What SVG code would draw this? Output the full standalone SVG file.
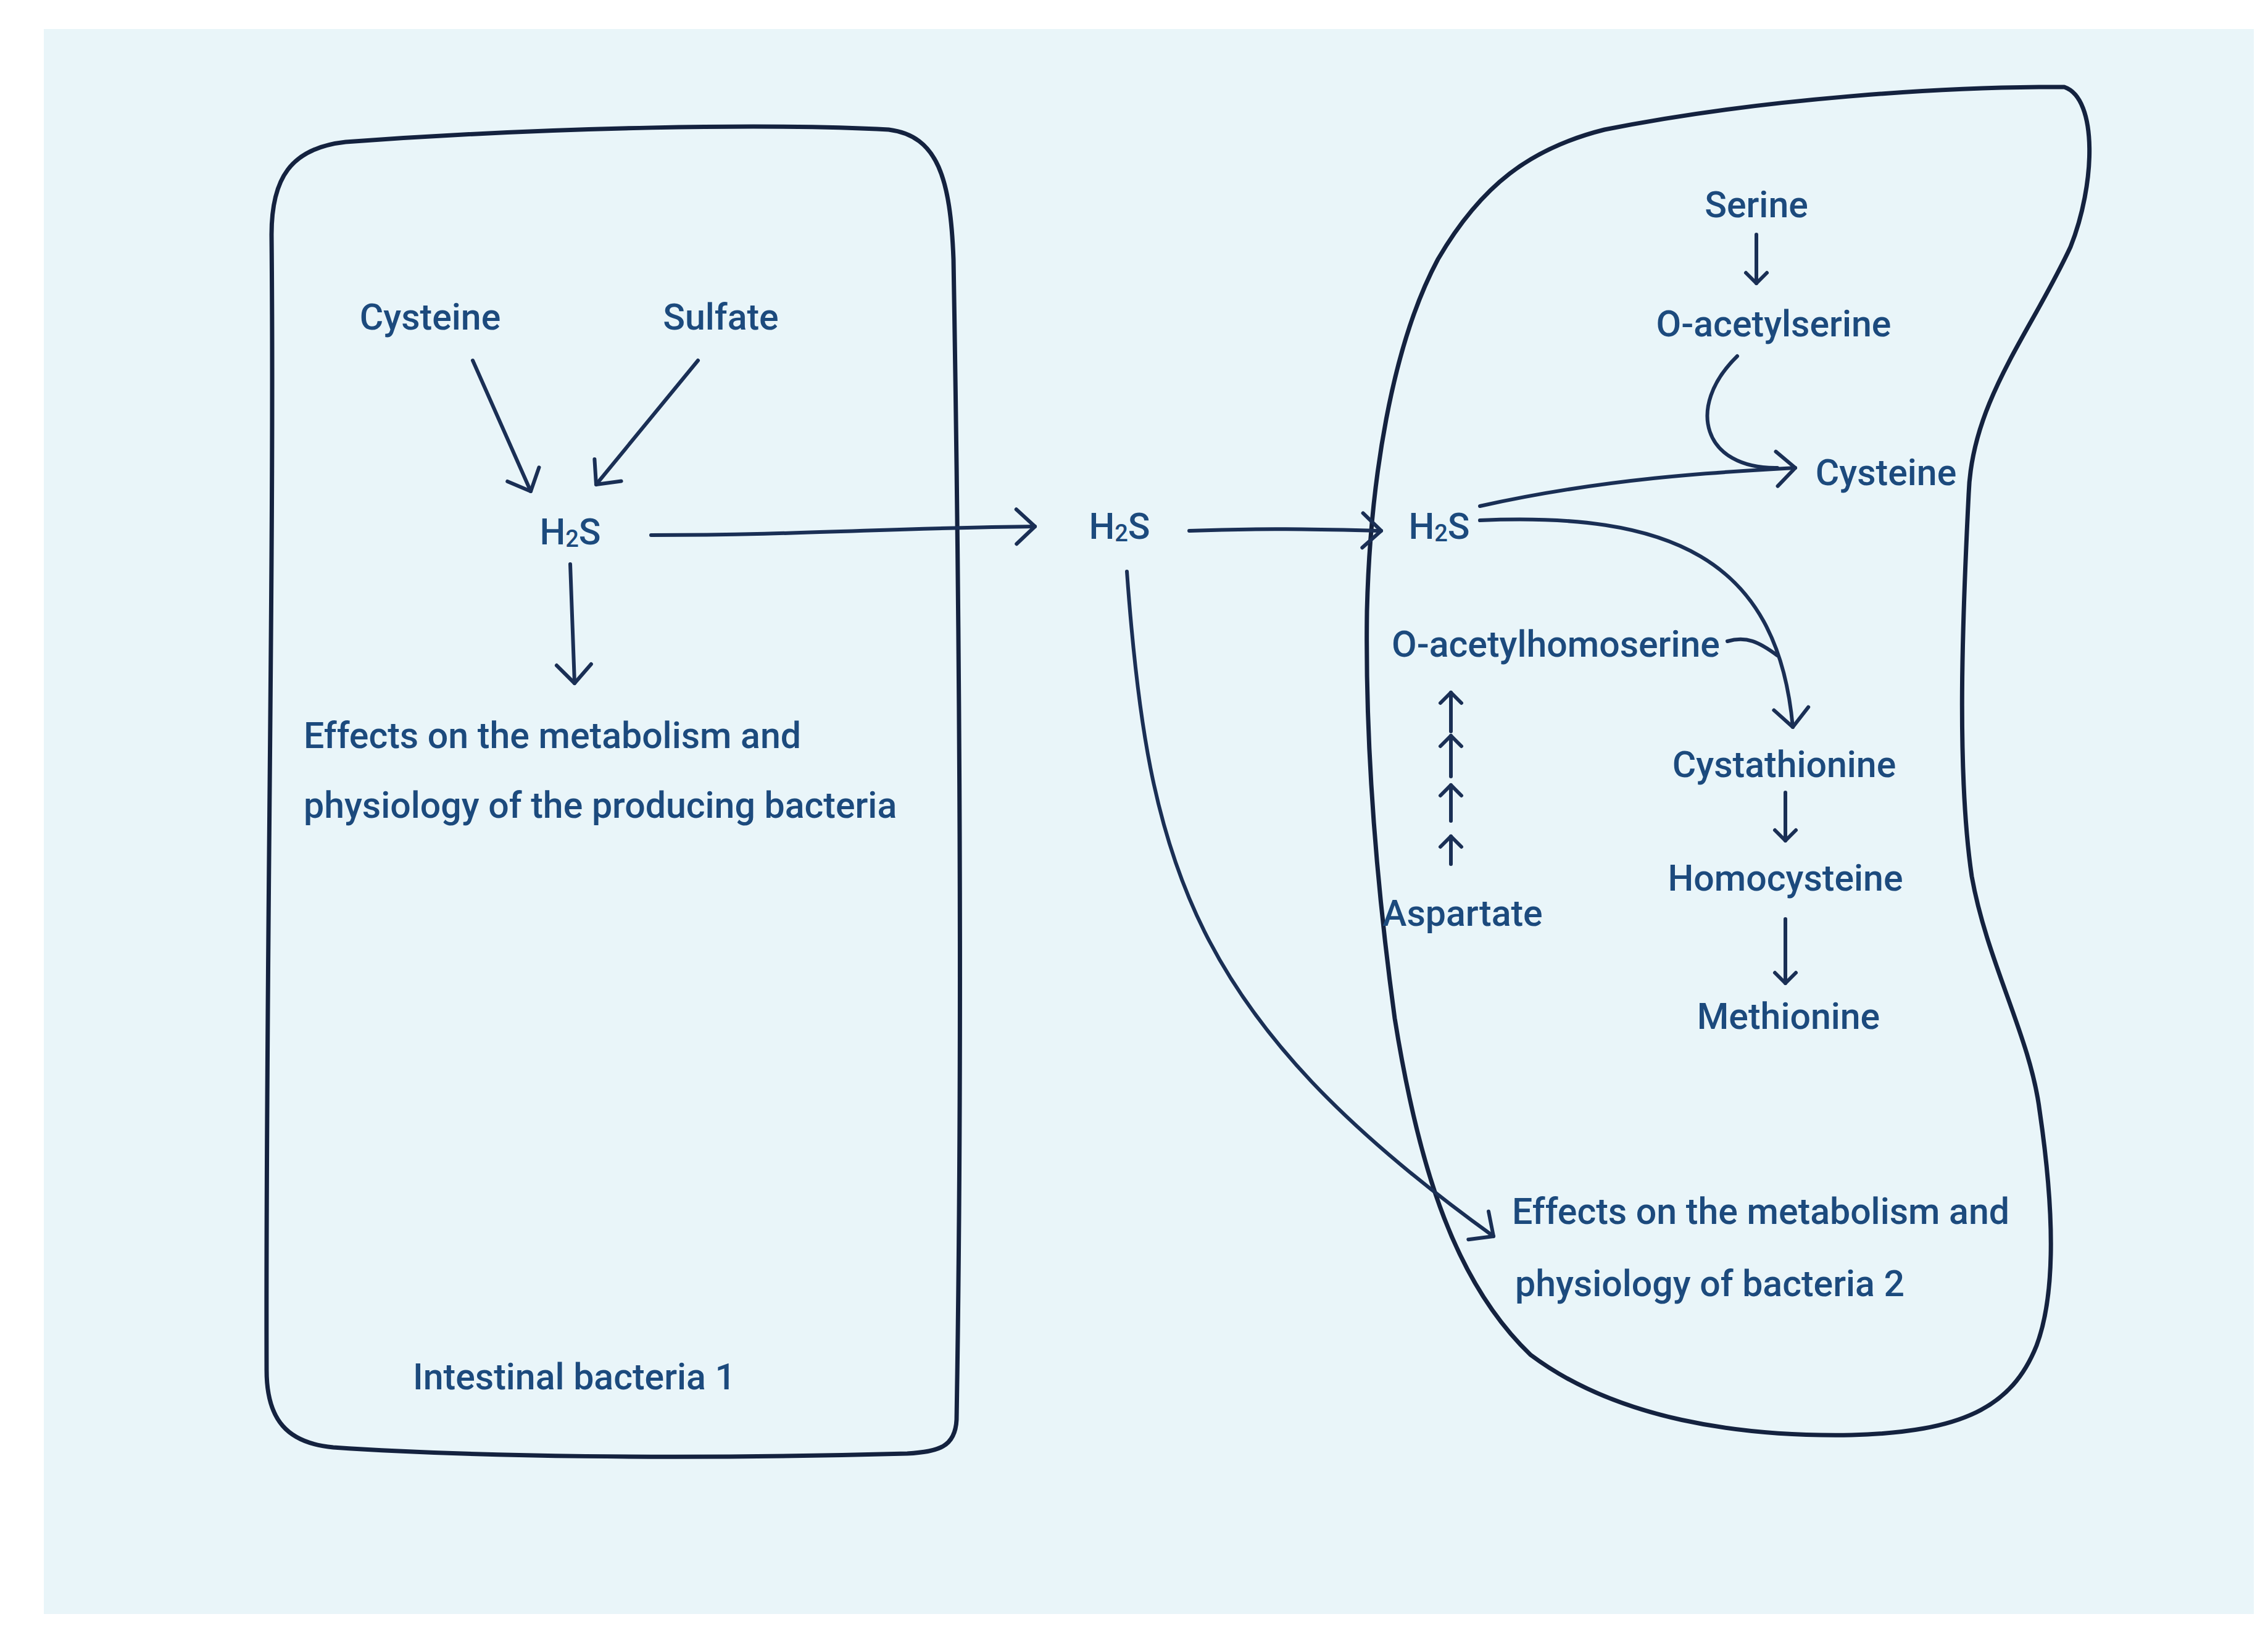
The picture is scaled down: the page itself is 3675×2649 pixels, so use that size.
<svg xmlns="http://www.w3.org/2000/svg" width="3675" height="2649" viewBox="0 0 3675 2649">
<defs>
<style>
.t{font-family:"Roboto","Liberation Sans",sans-serif;font-size:59px;font-weight:500;fill:#1c4a7d}
.c{text-anchor:middle}
.ln{fill:none;stroke:#1a2f55;stroke-width:6;stroke-linecap:round;stroke-linejoin:round}
.ol{fill:none;stroke:#14223f;stroke-width:7;stroke-linejoin:round}
.ar{marker-end:url(#v)}
.sm{marker-end:url(#vs)}
</style>
<marker id="v" markerUnits="userSpaceOnUse" markerWidth="80" markerHeight="80" refX="40" refY="40" orient="auto" viewBox="0 0 80 80">
<path d="M10 12 L40 40 L10 68" fill="none" stroke="#1a2f55" stroke-width="6" stroke-linecap="round" stroke-linejoin="round"/>
</marker>
<marker id="vs" markerUnits="userSpaceOnUse" markerWidth="50" markerHeight="50" refX="25" refY="25" orient="auto" viewBox="0 0 50 50">
<path d="M8 8 L25 25 L8 42" fill="none" stroke="#1a2f55" stroke-width="6" stroke-linecap="round" stroke-linejoin="round"/>
</marker>
</defs>
<rect width="3675" height="2649" fill="#ffffff"/>
<rect x="71" y="47" width="3581" height="2568" fill="#e9f5f9"/>
<g id="bacteria1">
<path class="ol" d="M560 230 C900 205 1250 200 1440 210 C1520 220 1540 290 1545 420 C1555 1000 1560 1700 1550 2300 C1548 2345 1520 2352 1470 2355 C1100 2365 760 2360 540 2345 C465 2338 432 2300 432 2220 C430 1600 445 900 440 380 C440 290 470 240 560 230 Z"/>
<text class="t" x="669" y="2251">Intestinal bacteria 1</text>
</g>
<g id="bacteria2">
<path class="ol" d="M2600 210 C2850 160 3150 140 3345 141 C3400 160 3395 300 3355 400 C3290 540 3195 650 3190 800 C3180 1000 3170 1250 3195 1420 C3220 1560 3290 1680 3305 1800 C3330 1970 3330 2100 3300 2180 C3260 2280 3180 2320 3000 2325 C2820 2328 2620 2300 2480 2195 C2360 2080 2300 1900 2260 1650 C2230 1430 2212 1200 2215 990 C2220 780 2255 560 2330 420 C2400 300 2480 240 2600 210 Z"/>
</g>
<g id="n-cysteine1"><text class="t c" x="697" y="534">Cysteine</text></g>
<g id="n-sulfate"><text class="t c" x="1168" y="534">Sulfate</text></g>
<g id="n-h2s1"><text class="t c" x="924" y="882">H<tspan font-size="38" dy="4">2</tspan><tspan dy="-4">S</tspan></text></g>
<g id="n-effects1"><text class="t" x="492" y="1212">Effects on the metabolism and</text><text class="t" x="492" y="1325">physiology of the producing bacteria</text></g>
<g id="n-h2s2"><text class="t c" x="1814" y="873">H<tspan font-size="38" dy="4">2</tspan><tspan dy="-4">S</tspan></text></g>
<g id="n-h2s3"><text class="t c" x="2332" y="873">H<tspan font-size="38" dy="4">2</tspan><tspan dy="-4">S</tspan></text></g>
<g id="n-serine"><text class="t c" x="2846" y="352">Serine</text></g>
<g id="n-oas"><text class="t c" x="2874" y="545">O-acetylserine</text></g>
<g id="n-cysteine2"><text class="t c" x="3056" y="786">Cysteine</text></g>
<g id="n-oah"><text class="t c" x="2521" y="1064">O-acetylhomoserine</text></g>
<g id="n-cystathionine"><text class="t c" x="2891" y="1259">Cystathionine</text></g>
<g id="n-homocysteine"><text class="t c" x="2893" y="1443">Homocysteine</text></g>
<g id="n-aspartate"><text class="t c" x="2370" y="1500">Aspartate</text></g>
<g id="n-methionine"><text class="t c" x="2898" y="1667">Methionine</text></g>
<g id="n-effects2"><text class="t" x="2450" y="1983">Effects on the metabolism and</text><text class="t" x="2455" y="2100">physiology of bacteria 2</text></g>
<g id="connectors">
<path class="ln ar" d="M766 584 L860 796"/>
<path class="ln ar" d="M1131 584 L966 785"/>
<path class="ln ar" d="M924 914 L931 1107"/>
<path class="ln ar" d="M1055 867 C1300 867 1450 855 1677 853"/>
<path class="ln ar" d="M1927 860 C2050 855 2150 858 2238 860"/>
<path class="ln ar" d="M1826 926 C1860 1400 1930 1650 2420 2003"/>
<path class="ln sm" d="M2846 380 L2846 459"/>
<path class="ln ar" d="M2398 820 C2600 775 2780 765 2909 758"/>
<path class="ln" d="M2815 577 C2730 660 2760 760 2880 758"/>
<path class="ln ar" d="M2398 843 C2700 830 2880 900 2905 1178"/>
<path class="ln" d="M2799 1039 C2830 1030 2850 1040 2880 1062"/>
<path class="ln sm" d="M2351 1185 L2351 1122"/>
<path class="ln sm" d="M2351 1258 L2351 1192"/>
<path class="ln sm" d="M2351 1330 L2351 1272"/>
<path class="ln sm" d="M2351 1400 L2351 1355"/>
<path class="ln sm" d="M2893 1284 L2893 1362"/>
<path class="ln sm" d="M2893 1489 L2893 1593"/>
</g>
</svg>
